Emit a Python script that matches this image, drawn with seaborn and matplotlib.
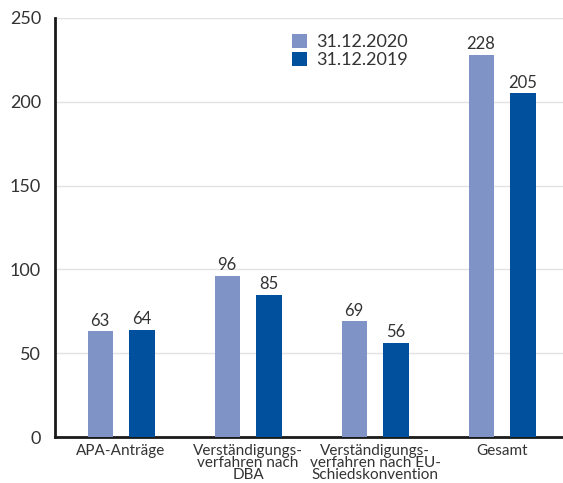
import pandas as pd
import matplotlib.pyplot as plt
import seaborn as sns

# Kategorien und Werte
kategorien = ['APA-Anträge', 'Verständigungs-\nverfahren nach\nDBA',
              'Verständigungs-\nverfahren nach EU-\nSchiedskonvention', 'Gesamt']
werte_2020 = [63, 96, 69, 228]
werte_2019 = [64, 85, 56, 205]
serien = ['31.12.2020', '31.12.2019']
farben = ['#7F93C6', '#00509E']

df = pd.DataFrame({
    'Kategorie': kategorien * 2,
    'Wert': werte_2020 + werte_2019,
    'Stichtag': [serien[0]] * 4 + [serien[1]] * 4,
})

sns.set_style('white')
plt.rcParams['font.family'] = ['Lato', 'DejaVu Sans']

fig = plt.figure(figsize=(5.63, 4.83), dpi=100)
ax = fig.add_axes([55 / 563, 46 / 483, 508 / 563, 419 / 483])

sns.barplot(data=df, x='Kategorie', y='Wert', hue='Stichtag',
            palette=farben, saturation=1, width=0.66, gap=0.4, ax=ax,
            zorder=3, linewidth=0)

for cont in ax.containers:
    ax.bar_label(cont, padding=2, fontsize=12, color='#333333')

ax.set_ylim(0, 250)
ax.set_xlim(-0.52, 3.48)
ax.set_yticks(range(0, 251, 50))
ax.yaxis.grid(True, color='#e3e3e3', linewidth=1, zorder=0)
ax.set_axisbelow(True)
ax.tick_params(axis='y', labelsize=13, colors='#333333', length=0, pad=10)
ax.tick_params(axis='x', labelsize=11, colors='#333333', length=0, pad=5)
for lbl in ax.get_xticklabels():
    lbl.set_linespacing(0.8)
ax.set_xlabel('')
ax.set_ylabel('')
for s in ['top', 'right']:
    ax.spines[s].set_visible(False)
for s in ['left', 'bottom']:
    ax.spines[s].set_color('#1a1a1a')
    ax.spines[s].set_linewidth(2)

leg = ax.legend(loc='upper left', bbox_to_anchor=(0.435, 1.0), frameon=False,
                fontsize=13, handlelength=0.8, handleheight=0.8,
                handletextpad=0.5, labelspacing=0.1, title=None)
for t in leg.get_texts():
    t.set_color('#333333')

fig.savefig('out.png', dpi=100)
